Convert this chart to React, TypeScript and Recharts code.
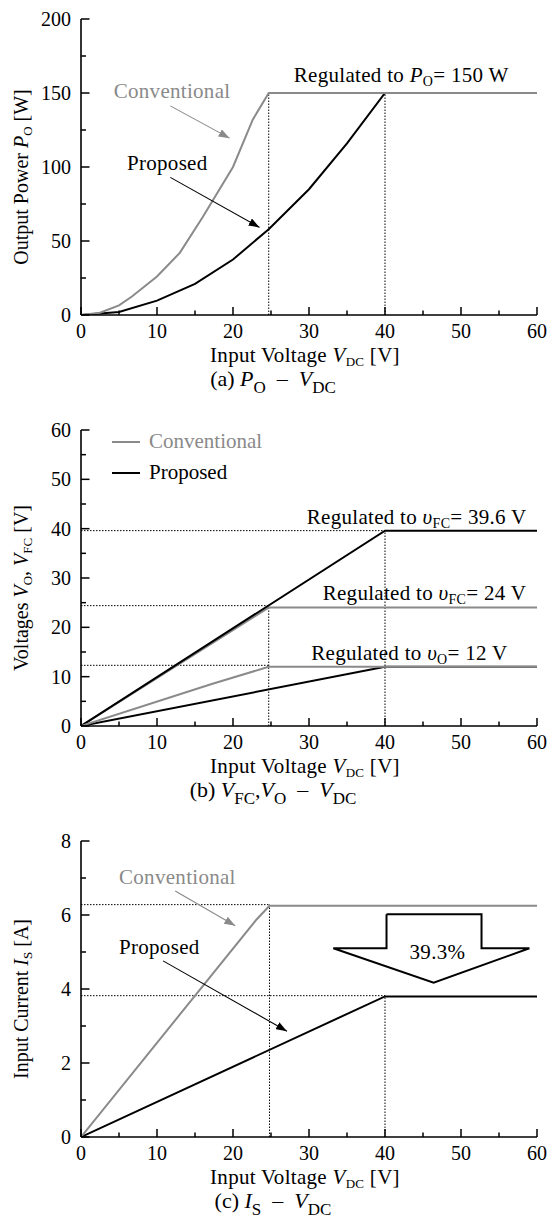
import React from "react";
import { LineChart, Line, XAxis, YAxis, ReferenceLine, ReferenceDot, Label, Legend } from "recharts";

const FONT = '"Liberation Serif", "DejaVu Serif", serif';
const GRAY = "#8a8a8a";
const INK = "#000";

// shared input voltage axis
const vdcTicks = [0, 5, 10, 15, 20, 25, 30, 35, 40, 45, 50, 55, 60];

// (a) output power P_O [W]
const poTicks = [0, 25, 50, 75, 100, 125, 150, 175, 200];
const poConvVdc = [0, 2.5, 5, 6.7, 10, 13, 16, 20, 22.6, 24.7, 60];
const poConvW = [0, 1.5, 6.5, 12.5, 26, 42, 66, 100, 132, 150, 150];
const poPropVdc = [0, 5, 10, 15, 20, 24.7, 30, 35, 40, 60];
const poPropW = [0, 2, 9.7, 21, 37.5, 58, 85, 116, 150, 150];

// (b) voltages V_FC, V_O [V]
const vTicks = [0, 5, 10, 15, 20, 25, 30, 35, 40, 45, 50, 55, 60];
const vfcConvVdc = [0, 24.7, 60];
const vfcConvV = [0, 24, 24];
const vfcPropVdc = [0, 40, 60];
const vfcPropV = [0, 39.6, 39.6];
const voConvVdc = [0, 17.2, 24.7, 60];
const voConvV = [0, 8.5, 12, 12];
const voPropVdc = [0, 40, 60];
const voPropV = [0, 12, 12];

// (c) input current I_S [A]
const isTicks = [0, 1, 2, 3, 4, 5, 6, 7, 8];
const isConvVdc = [0, 23.1, 24.8, 60];
const isConvA = [0, 5.88, 6.25, 6.25];
const isPropVdc = [0, 40, 60];
const isPropA = [0, 3.8, 3.8];
// 39.3 % reduction arrow outline
const dropVdc = [40.2, 52.7, 52.7, 59, 46.4, 33.2, 40.2, 40.2];
const dropA = [6.02, 6.02, 5.1, 5.1, 4.17, 5.1, 5.1, 6.02];

const legendNames = ["Conventional", "Proposed"];

type Part = [string, string?];
type Pt = { x: number; y: number };
const zip = (xs: number[], ys: number[]): Pt[] => xs.map((x, i) => ({ x, y: ys[i] }));

function rich(parts: Part[], sub: number, drop: number) {
  let low = false;
  return parts.map(([t, f], k) => {
    const isSub = f === "s";
    let dy: number | undefined;
    if (isSub && !low) {
      dy = drop;
      low = true;
    } else if (!isSub && low) {
      dy = -drop;
      low = false;
    }
    return (
      <tspan key={k} dy={dy} fontStyle={f === "i" ? "italic" : undefined} fontSize={isSub ? sub : undefined}>
        {t}
      </tspan>
    );
  });
}

const NB = "\u00a0";
const xLabelParts: Part[] = [["Input Voltage "], ["V", "i"], ["DC", "s"], [NB + "[V]"]];

type Series = { xs: number[]; ys: number[]; color: string };
type Note = { x: number; y: number; parts: Part[]; color?: string; anchor?: "start" | "middle" | "end" };
type Pointer = { xs: number[]; ys: number[]; color: string; head: string };
type Guide = [number, number, number, number];

type PanelProps = {
  yMax: number;
  yTicks: number[];
  yMajor: number;
  yLabel: Part[];
  caption: Part[];
  series: Series[];
  guides: Guide[];
  notes: Note[];
  pointers: Pointer[];
  outline?: Series;
  legend?: boolean;
};

function Panel({ yMax, yTicks, yMajor, yLabel, caption, series, guides, notes, pointers, outline, legend }: PanelProps) {
  const xTick = (p: any) => {
    const v = p.payload.value;
    const major = v % 10 === 0;
    return (
      <g>
        <line x1={p.x} x2={p.x} y1={p.y} y2={p.y - (major ? 8 : 4.5)} stroke={INK} strokeWidth={1.5} />
        {major && (
          <text x={p.x} y={p.y + 23} textAnchor="middle" fontSize={20} fontFamily={FONT} fill={INK}>
            {v}
          </text>
        )}
      </g>
    );
  };
  const yTick = (p: any) => {
    const v = p.payload.value;
    const major = v % yMajor === 0;
    return (
      <g>
        <line x1={p.x} x2={p.x + (major ? 8.5 : 5)} y1={p.y} y2={p.y} stroke={INK} strokeWidth={1.5} />
        {major && (
          <text x={p.x - 10} y={p.y + 7} textAnchor="end" fontSize={20} fontFamily={FONT} fill={INK}>
            {v}
          </text>
        )}
      </g>
    );
  };
  const xLabel = (p: any) => {
    const vb = p.viewBox || { x: 81, y: 315, width: 456, height: 30 };
    const cx = vb.x + vb.width / 2;
    return (
      <g>
        <text x={cx - 4} y={vb.y + 47} textAnchor="middle" fontSize={21} letterSpacing={0.3} fontFamily={FONT} fill={INK}>
          {rich(xLabelParts, 13, 4)}
        </text>
        <text x={cx - 36} y={vb.y + 71} textAnchor="middle" fontSize={22} fontFamily={FONT} fill={INK}>
          {rich(caption, 17, 7)}
        </text>
      </g>
    );
  };
  const yLabelFn = (p: any) => {
    const vb = p.viewBox || { x: 0, y: 19, width: 81, height: 296 };
    const cy = vb.y + vb.height / 2 + 10;
    return (
      <text
        transform={`translate(28, ${cy}) rotate(-90)`}
        textAnchor="middle"
        fontSize={20}
        fontFamily={FONT}
        fill={INK}
      >
        {rich(yLabel, 13, 4)}
      </text>
    );
  };

  return (
    <LineChart width={552} height={411} margin={{ top: 19, right: 15, bottom: 66, left: 0 }}>
      <XAxis
        type="number"
        dataKey="x"
        domain={[0, 60]}
        ticks={vdcTicks}
        interval={0}
        allowDataOverflow
        height={30}
        tickSize={0}
        tickMargin={0}
        tickLine={false}
        axisLine={{ stroke: INK, strokeWidth: 1.6 }}
        tick={xTick}
      >
        <Label content={xLabel} />
      </XAxis>
      <YAxis
        type="number"
        domain={[0, yMax]}
        ticks={yTicks}
        interval={0}
        allowDataOverflow
        width={81}
        tickSize={0}
        tickMargin={0}
        tickLine={false}
        axisLine={{ stroke: INK, strokeWidth: 1.6 }}
        tick={yTick}
      >
        <Label content={yLabelFn} />
      </YAxis>
      {guides.map((g, i) => (
        <ReferenceLine
          key={"g" + i}
          segment={[{ x: g[0], y: g[1] }, { x: g[2], y: g[3] }]}
          stroke={INK}
          strokeWidth={1}
          strokeDasharray="1.5 1.5"
          ifOverflow="visible"
        />
      ))}
      {series.map((s, i) => (
        <Line
          key={"s" + i}
          data={zip(s.xs, s.ys)}
          dataKey="y"
          type="linear"
          stroke={s.color}
          strokeWidth={2}
          dot={false}
          activeDot={false}
          legendType="none"
          isAnimationActive={false}
        />
      ))}
      {pointers.map((a, i) => (
        <Line
          key={"p" + i}
          data={zip(a.xs, a.ys)}
          dataKey="y"
          type="linear"
          stroke={a.color}
          strokeWidth={1.1}
          markerEnd={`url(#${a.head})`}
          dot={false}
          activeDot={false}
          legendType="none"
          isAnimationActive={false}
        />
      ))}
      {outline && (
        <Line
          data={zip(outline.xs, outline.ys)}
          dataKey="y"
          type="linear"
          stroke={outline.color}
          strokeWidth={2}
          strokeLinejoin="miter"
          dot={false}
          activeDot={false}
          legendType="none"
          isAnimationActive={false}
        />
      )}
      {notes.map((n, i) => (
        <ReferenceDot
          key={"n" + i}
          x={n.x}
          y={n.y}
          r={0}
          ifOverflow="visible"
          shape={(p: any) => (
            <text
              x={p.cx}
              y={p.cy}
              textAnchor={n.anchor || "start"}
              fontSize={21}
              letterSpacing={0.3}
              fontFamily={FONT}
              fill={n.color || INK}
            >
              {rich(n.parts, 14, 4)}
            </text>
          )}
        />
      ))}
      {legend && (
        <Legend
          layout="vertical"
          align="center"
          verticalAlign="middle"
          wrapperStyle={{ top: 15, left: 112, width: 220, height: 62 }}
          content={() => (
            <div style={{ fontFamily: FONT, fontSize: 21 }}>
              {legendNames.map((name, i) => {
                const c = i === 0 ? GRAY : INK;
                return (
                  <div key={name} style={{ display: "flex", alignItems: "center", height: 31, color: c }}>
                    <span style={{ width: 28, height: 0, borderTop: `2px solid ${c}`, marginRight: 9 }} />
                    {name}
                  </div>
                );
              })}
            </div>
          )}
        />
      )}
    </LineChart>
  );
}

const DASH = NB + NB + "\u2013" + NB + NB;

export default function App() {
  return (
    <div style={{ position: "absolute", left: 0, top: 0, width: 552, height: 1232, background: "#fff", fontFamily: FONT }}>
      <svg width={0} height={0} style={{ position: "absolute" }}>
        <defs>
          <marker id="headGray" viewBox="0 0 11 8" markerWidth={11} markerHeight={8} refX={11} refY={4} orient="auto" markerUnits="userSpaceOnUse">
            <path d="M0,0L11,4L0,8Z" fill={GRAY} />
          </marker>
          <marker id="headBlack" viewBox="0 0 11 8" markerWidth={11} markerHeight={8} refX={11} refY={4} orient="auto" markerUnits="userSpaceOnUse">
            <path d="M0,0L11,4L0,8Z" fill={INK} />
          </marker>
        </defs>
      </svg>

      <Panel
        yMax={200}
        yTicks={poTicks}
        yMajor={50}
        yLabel={[["Output Power "], ["P", "i"], ["O", "s"], [NB + "[W]"]]}
        caption={[["(a) "], ["P", "i"], ["O", "s"], [DASH], ["V", "i"], ["DC", "s"]]}
        series={[
          { xs: poPropVdc, ys: poPropW, color: INK },
          { xs: poConvVdc, ys: poConvW, color: GRAY },
        ]}
        guides={[
          [24.7, 0, 24.7, 150],
          [40, 0, 40, 150],
        ]}
        notes={[
          { x: 28, y: 157.5, parts: [["Regulated to "], ["P", "i"], ["O", "s"], ["= 150 W"]] },
          { x: 4.3, y: 146.5, parts: [["Conventional"]], color: GRAY },
          { x: 6.05, y: 97.7, parts: [["Proposed"]] },
        ]}
        pointers={[
          { xs: [11.75, 19.55], ys: [141.3, 119.5], color: GRAY, head: "headGray" },
          { xs: [11.75, 23.5], ys: [93, 59.2], color: INK, head: "headBlack" },
        ]}
      />

      <Panel
        yMax={60}
        yTicks={vTicks}
        yMajor={10}
        yLabel={[["Voltages "], ["V", "i"], ["O", "s"], [", "], ["V", "i"], ["FC", "s"], [NB + "[V]"]]}
        caption={[["(b) "], ["V", "i"], ["FC", "s"], [","], ["V", "i"], ["O", "s"], [DASH], ["V", "i"], ["DC", "s"]]}
        series={[
          { xs: vfcConvVdc, ys: vfcConvV, color: GRAY },
          { xs: vfcPropVdc, ys: vfcPropV, color: INK },
          { xs: voPropVdc, ys: voPropV, color: INK },
          { xs: voConvVdc, ys: voConvV, color: GRAY },
        ]}
        guides={[
          [0, 39.6, 40, 39.6],
          [40, 0, 40, 39.6],
          [0, 24.4, 24.7, 24.4],
          [24.7, 0, 24.7, 24.4],
          [0, 12.3, 24.7, 12.3],
        ]}
        notes={[
          { x: 29.7, y: 40.9, parts: [["Regulated to "], ["\u03c5", "i"], ["FC", "s"], ["= 39.6 V"]] },
          { x: 31.8, y: 25.5, parts: [["Regulated to "], ["\u03c5", "i"], ["FC", "s"], ["= 24 V"]] },
          { x: 30.3, y: 13.4, parts: [["Regulated to "], ["\u03c5", "i"], ["O", "s"], ["= 12 V"]] },
        ]}
        pointers={[]}
        legend
      />

      <Panel
        yMax={8}
        yTicks={isTicks}
        yMajor={2}
        yLabel={[["Input Current "], ["I", "i"], ["S", "s"], [NB + "[A]"]]}
        caption={[["(c) "], ["I", "i"], ["S", "s"], [DASH], ["V", "i"], ["DC", "s"]]}
        series={[
          { xs: isPropVdc, ys: isPropA, color: INK },
          { xs: isConvVdc, ys: isConvA, color: GRAY },
        ]}
        guides={[
          [0, 6.28, 24.8, 6.28],
          [24.8, 0, 24.8, 6.28],
          [0, 3.82, 40, 3.82],
          [40, 0, 40, 3.82],
        ]}
        notes={[
          { x: 5, y: 6.83, parts: [["Conventional"]], color: GRAY },
          { x: 5, y: 4.94, parts: [["Proposed"]] },
          { x: 46.9, y: 4.81, parts: [["39.3%"]], anchor: "middle" },
        ]}
        pointers={[
          { xs: [12.4, 20.3], ys: [6.65, 5.71], color: GRAY, head: "headGray" },
          { xs: [10.8, 27.1], ys: [4.76, 2.86], color: INK, head: "headBlack" },
        ]}
        outline={{ xs: dropVdc, ys: dropA, color: INK }}
      />
    </div>
  );
}
